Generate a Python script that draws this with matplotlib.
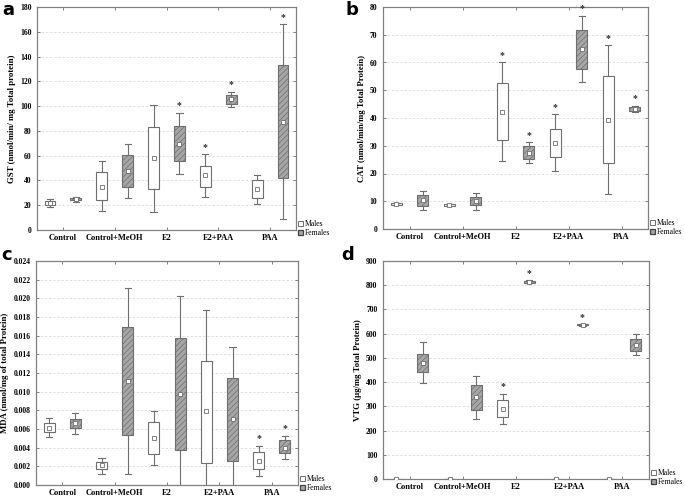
"""Four-panel grouped box plots (GST, CAT, MDA, VTG) for males vs females."""
import matplotlib
matplotlib.use("Agg")
import matplotlib.pyplot as plt
from matplotlib.patches import Patch
from matplotlib.ticker import FormatStrFormatter, MultipleLocator

plt.rcParams["font.family"] = ["Liberation Serif", "DejaVu Serif"]
plt.rcParams["hatch.linewidth"] = 0.5

groups = ["Control", "Control+MeOH", "E2", "E2+PAA", "PAA"]

# each stat: mean, box low, box high, whisker low, whisker high
gst_male_mean = [22, 35, 58, 44, 33]
gst_male_box = [(20.5, 23.5), (24, 47), (33, 83), (35, 52), (26, 40)]
gst_male_whisk = [(18.5, 25), (15, 56), (14.5, 101), (26.5, 61), (21, 44.5)]
gst_male_star = [0, 0, 0, 1, 0]
gst_female_mean = [25, 48, 69.5, 105.5, 87]
gst_female_box = [(24, 26), (35, 60.5), (55.5, 84), (102, 109), (42, 133)]
gst_female_whisk = [(23, 27), (26, 69.5), (45, 94.5), (99.5, 111.5), (9, 166)]
gst_female_star = [0, 0, 1, 1, 1]

cat_male_mean = [8.9, 8.7, 42.2, 31, 39.3]
cat_male_box = [(8.6, 9.2), (8.4, 9.0), (32, 52.5), (26, 36), (23.7, 55)]
cat_male_whisk = [(8.5, 9.3), (8.3, 9.1), (24.5, 60), (20.8, 41.3), (12.5, 66.2)]
cat_male_star = [0, 0, 1, 1, 1]
cat_female_mean = [10.3, 10, 27.5, 64.7, 43.3]
cat_female_box = [(8.3, 12.2), (8.5, 11.5), (25.3, 29.8), (57.8, 71.6), (42.5, 44)]
cat_female_whisk = [(7, 13.8), (7, 12.8), (23.8, 31.2), (52.8, 76.8), (42.2, 44.3)]
cat_female_star = [0, 0, 1, 1, 1]

mda_male_mean = [0.0061, 0.0021, 0.0050, 0.0079, 0.0026]
mda_male_box = [(0.0057, 0.0066), (0.0017, 0.0025), (0.0033, 0.0067),
                (0.0024, 0.0133), (0.0017, 0.0035)]
mda_male_whisk = [(0.0051, 0.0072), (0.0012, 0.0029), (0.0021, 0.0079),
                  (-0.0030, 0.0188), (0.0010, 0.0042)]
mda_male_star = [0, 0, 0, 0, 1]
mda_female_mean = [0.0066, 0.0111, 0.0097, 0.0071, 0.0040]
mda_female_box = [(0.0061, 0.0071), (0.0054, 0.0169), (0.0037, 0.0158),
                  (0.0026, 0.0115), (0.0034, 0.0048)]
mda_female_whisk = [(0.0055, 0.0077), (0.0012, 0.0211), (-0.0010, 0.0203),
                    (-0.0006, 0.0148), (0.0028, 0.0053)]
mda_female_star = [0, 0, 0, 0, 1]

vtg_male_mean = [0, 0, 290, 0, 0]
vtg_male_box = [(0, 0), (0, 0), (255, 325), (0, 0), (0, 0)]
vtg_male_whisk = [(0, 0), (0, 0), (228, 352), (0, 0), (0, 0)]
vtg_male_star = [0, 0, 1, 0, 0]
vtg_female_mean = [480, 337, 815, 636, 553]
vtg_female_box = [(443, 518), (285, 390), (811, 819), (634, 638), (529, 578)]
vtg_female_whisk = [(395, 565), (248, 427), (809, 821), (633, 639), (512, 597)]
vtg_female_star = [0, 0, 1, 1, 0]

EDGE = "#6e6e6e"
FEMALE = "#a6a6a6"


def stats(mean, box, whisk):
    return [dict(med=m, mean=m, q1=b[0], q3=b[1], whislo=w[0], whishi=w[1])
            for m, b, w in zip(mean, box, whisk)]


def panel(ax, ylabel, ymax, step, fmt, male, female):
    pos = range(len(groups))
    for data, off, face, hatch in [(male, -0.25, "white", None),
                                   (female, 0.25, FEMALE, "//////")]:
        mean, box, whisk, star = data
        xs = [p + off for p in pos]
        ax.bxp(stats(mean, box, whisk), positions=xs, widths=0.21,
               capwidths=0.12, patch_artist=True, showmeans=True,
               showfliers=False,
               boxprops=dict(facecolor=face, edgecolor=EDGE, linewidth=0.8,
                             hatch=hatch),
               whiskerprops=dict(color=EDGE, linewidth=0.8),
               capprops=dict(color=EDGE, linewidth=0.8),
               medianprops=dict(linewidth=0),
               meanprops=dict(marker="s", markersize=3.2,
                              markerfacecolor="white",
                              markeredgecolor=EDGE, markeredgewidth=0.6),
               zorder=3)
        for x, w, s in zip(xs, whisk, star):
            if s:
                ax.text(x, w[1] + ymax * 0.012, "*", ha="center", va="bottom",
                        fontsize=7, color="#333333", fontweight="bold")
    ax.set_xlim(-0.5, 4.5)
    ax.set_ylim(0, ymax)
    ax.set_xticks(list(pos))
    ax.set_xticklabels(groups, fontsize=6, fontweight="bold")
    ax.yaxis.set_major_locator(MultipleLocator(step))
    ax.yaxis.set_major_formatter(FormatStrFormatter(fmt))
    ax.tick_params(axis="y", labelsize=5.5, pad=4)
    ax.tick_params(axis="x", pad=3)
    for lab in ax.get_yticklabels():
        lab.set_fontweight("bold")
    ax.tick_params(direction="in", length=2, width=0.6, color=EDGE,
                   top=True, right=True)
    ax.grid(axis="y", linestyle=(0, (3, 2)), color="#dcdcdc", linewidth=0.6)
    ax.set_axisbelow(True)
    for sp in ax.spines.values():
        sp.set_color("#808080")
        sp.set_linewidth(0.9)
    ax.set_ylabel(ylabel, fontsize=6.3, fontweight="bold", labelpad=3)
    handles = [Patch(facecolor="white", edgecolor=EDGE, linewidth=0.7),
               Patch(facecolor=FEMALE, edgecolor="#404040", linewidth=0.9)]
    ax.legend(handles, ["Males", "Females"], loc="lower left",
              bbox_to_anchor=(1.0, -0.04), frameon=False, fontsize=5.5,
              handlelength=0.7, handleheight=0.7, handletextpad=0.3,
              labelspacing=0.15, borderpad=0.1, borderaxespad=0.1)


fig = plt.figure(figsize=(6.85, 4.99), dpi=100)
W, H = 685, 499


def add(left, top, right, bottom):
    return fig.add_axes([left / W, 1 - bottom / H, (right - left) / W,
                         (bottom - top) / H])


ax_a = add(37, 7, 296, 230)
ax_b = add(383, 7, 648, 229)
ax_c = add(36, 261, 298, 485)
ax_d = add(383, 261, 649, 479)

panel(ax_a, "GST (nmol/min/ mg Total protein)", 180, 20, "%d",
      (gst_male_mean, gst_male_box, gst_male_whisk, gst_male_star),
      (gst_female_mean, gst_female_box, gst_female_whisk, gst_female_star))
panel(ax_b, "CAT (nmol/min/mg Total Protein)", 80, 10, "%d",
      (cat_male_mean, cat_male_box, cat_male_whisk, cat_male_star),
      (cat_female_mean, cat_female_box, cat_female_whisk, cat_female_star))
panel(ax_c, "MDA (nmol/mg of total Protein)", 0.024, 0.002, "%.3f",
      (mda_male_mean, mda_male_box, mda_male_whisk, mda_male_star),
      (mda_female_mean, mda_female_box, mda_female_whisk, mda_female_star))
panel(ax_d, "VTG (µg/mg Total Protein)", 900, 100, "%d",
      (vtg_male_mean, vtg_male_box, vtg_male_whisk, vtg_male_star),
      (vtg_female_mean, vtg_female_box, vtg_female_whisk, vtg_female_star))

for letter, x, y in [("a", 2, 1), ("b", 345, 1), ("c", 1, 246), ("d", 341, 246)]:
    fig.text(x / W, 1 - y / H, letter, fontsize=13, fontweight="bold",
             family="DejaVu Sans", ha="left", va="top")

fig.savefig("out.png", dpi=100)
